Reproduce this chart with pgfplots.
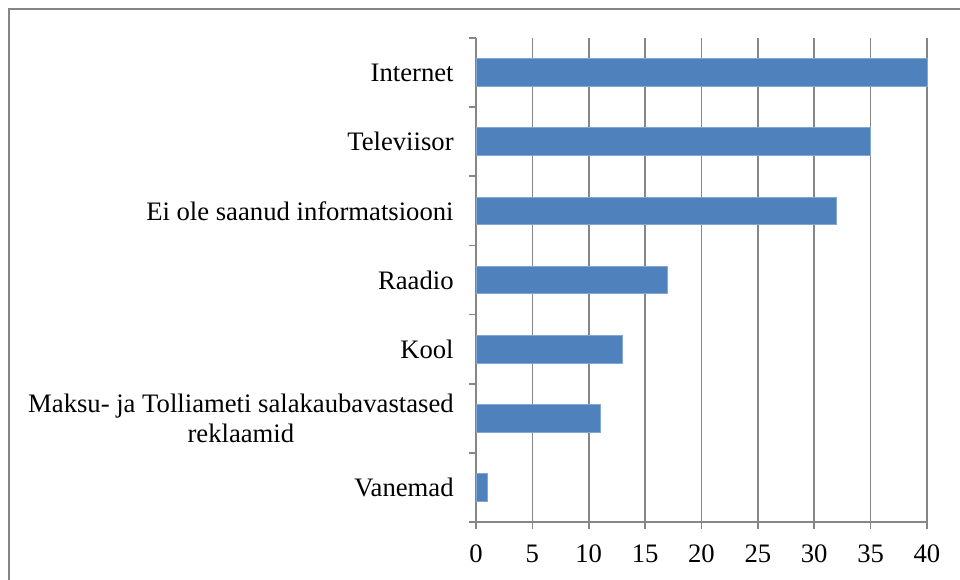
\documentclass[border=0pt]{standalone}
\usepackage{fontspec}
\setmainfont{Liberation Serif}
\usepackage{pgfplots}
\pgfplotsset{compat=1.18}
\definecolor{barblue}{HTML}{4F81BD}
\definecolor{axgrey}{HTML}{868686}
\begin{document}
\begin{tikzpicture}
\useasboundingbox (-357pt,-43.5pt) rectangle (363pt,391.5pt);
\draw[axgrey, line width=1.5pt] (-350.25pt,-60pt) -- (-350.25pt,384.75pt) -- (380pt,384.75pt);
\begin{axis}[
  at={(0pt,0pt)}, anchor=south west,
  scale only axis, width=338.25pt, height=363pt,
  xbar, bar width=0.4,
  xmin=0, xmax=40, ymin=-0.5, ymax=6.5,
  xtick={0,5,...,40},
  ytick={0,...,6},
  yticklabels={Vanemad,{Maksu- ja Tolliameti salakaubavastased\\reklaamid},Kool,Raadio,{Ei ole saanud informatsiooni},Televiisor,Internet},
  minor ytick={-0.5,0.5,...,6.5},
  axis lines*=left,
  axis line style={axgrey, line width=1.3pt},
  xmajorgrids, grid style={axgrey, line width=1.3pt},
  tick align=outside,
  major tick length=5.25pt, minor tick length=5.25pt,
  major x tick style={axgrey, line width=1.3pt},
  major y tick style={draw=none},
  minor y tick style={axgrey, line width=1.3pt},
  tick label style={font=\fontsize{20}{22.5}\selectfont},
  yticklabel style={align=center, xshift=-8pt},
  xticklabel style={yshift=-8.5pt},
  /pgf/number format/assume math mode=true,
  clip=false,
]
\addplot[fill=barblue, draw=barblue!70!white, line width=0.6pt] coordinates {(1,0) (11,1) (13,2) (17,3) (32,4) (35,5) (40,6)};
\end{axis}
\end{tikzpicture}
\end{document}
